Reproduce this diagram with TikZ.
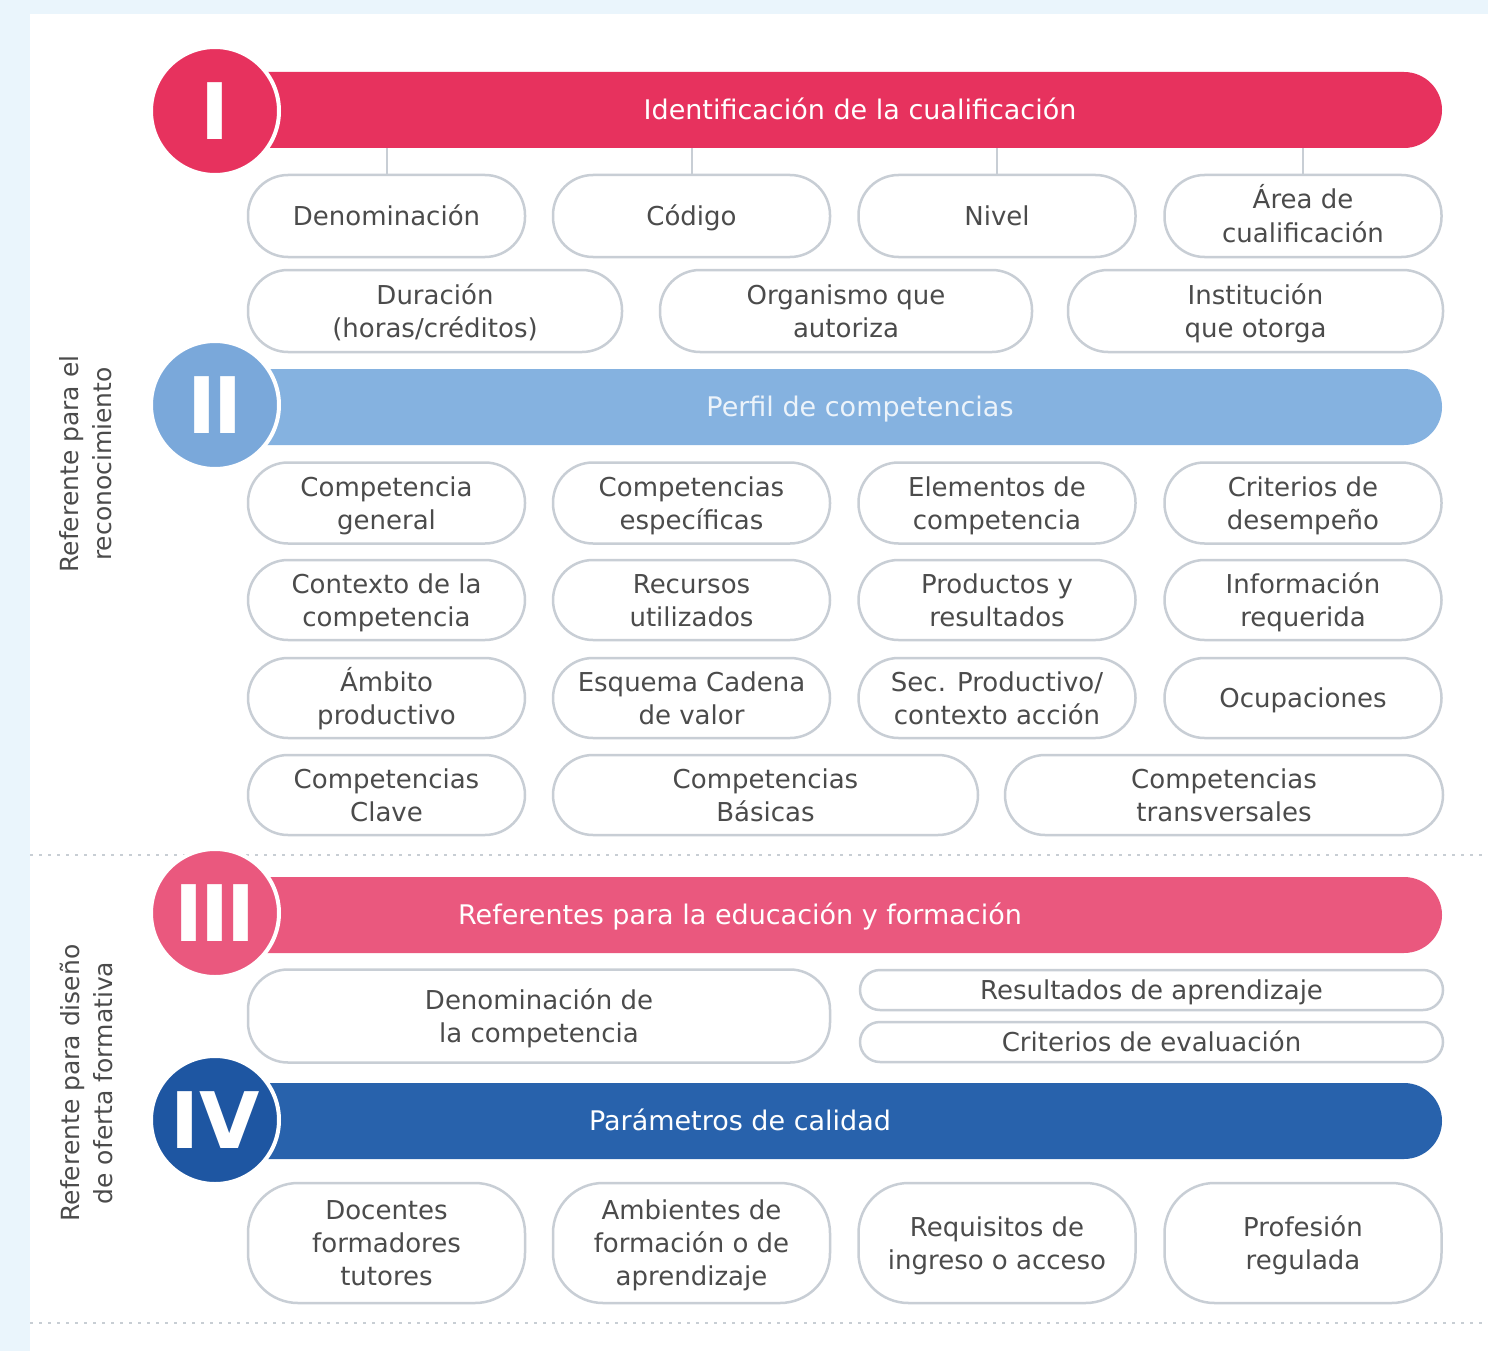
\documentclass[tikz,border=0pt]{standalone}
\usepackage{fontspec}
\setmainfont{DejaVu Sans}
\definecolor{bgblue}{RGB}{234,245,252}
\definecolor{cI}{RGB}{231,50,94}
\definecolor{cII}{RGB}{133,178,224}
\definecolor{cIIc}{RGB}{122,168,218}
\definecolor{cIII}{RGB}{234,88,126}
\definecolor{cIV}{RGB}{40,98,172}
\definecolor{cIVc}{RGB}{30,86,162}
\definecolor{pillc}{RGB}{200,206,213}
\definecolor{txt}{RGB}{75,75,75}
\definecolor{dotc}{RGB}{200,206,212}
\newcommand{\balstrut}{\rule[-7pt]{0pt}{33pt}}
\newcommand{\pl}[1]{\balstrut#1\balstrut}
\tikzset{
  pill/.style={draw=pillc, line width=2.5pt, fill=white, rounded corners=40pt,
    align=center, inner sep=0pt, text=txt,
    font=\fontsize{26}{33}\selectfont},
  barbox/.style={fill=#1, rounded corners=38pt, minimum height=76pt,
    minimum width=1242pt, inner sep=0pt},
  numcirc/.style={circle, fill=#1, draw=white, line width=4pt,
    minimum size=128pt, inner sep=0pt, text=white,
    font=\fontsize{78}{78}\bfseries\selectfont},
  bartext/.style={text=white, font=\fontsize{27}{33}\selectfont, inner sep=0pt},
  sidelabel/.style={rotate=90, align=center, text=txt, inner sep=0pt,
    font=\fontsize{25}{33}\selectfont},
  sepline/.style={dotc, line width=2.5pt, dash pattern=on 3pt off 6pt},
  tick/.style={pillc, line width=2pt}
}
\begin{document}
\begin{tikzpicture}[x=1pt,y=-1pt]
\useasboundingbox (0,0) rectangle (1488,1351);
\fill[bgblue] (0,0) rectangle (1488,1351);
\fill[white] (30,14) rectangle (1488,1351);

% separators
\draw[sepline] (30,855) -- (1488,855);
\draw[sepline] (30,1323) -- (1488,1323);

% side labels
\node[sidelabel] (lab1) at (86,464) {Referente para el\\reconocimiento};
\node[sidelabel] (lab2) at (86,1083) {Referente para diseño\\de oferta formativa};

% ---------- Section I ----------
\node[barbox=cI] (barI) at (821,110) {};
\node[numcirc=cI] (cirI) at (215,111) {I};
\node[bartext] (tI) at (860,110) {\pl{Identificación de la cualificación}};

\node[pill, minimum width=277pt, minimum height=82pt] (p11) at (386.5,216) {\pl{Denominación}};
\node[pill, minimum width=277pt, minimum height=82pt] (p12) at (691.5,216) {\pl{Código}};
\node[pill, minimum width=277pt, minimum height=82pt] (p13) at (997,216) {\pl{Nivel}};
\node[pill, minimum width=277pt, minimum height=82pt] (p14) at (1303,216) {\pl{Área de\\cualificación}};
\foreach \p in {p11,p12,p13,p14}
  \draw[tick] (\p.north) -- (\p.north |- barI.south);

\node[pill, minimum width=374pt, minimum height=82pt] (p21) at (435,311) {\pl{Duración\\(horas/créditos)}};
\node[pill, minimum width=372pt, minimum height=82pt] (p22) at (846,311) {\pl{Organismo que\\autoriza}};
\node[pill, minimum width=375pt, minimum height=82pt] (p23) at (1255.5,311) {\pl{Institución\\que otorga}};

% ---------- Section II ----------
\node[barbox=cII] (barII) at (821,407) {};
\node[numcirc=cIIc] (cirII) at (215,405) {I\kern-3pt I};
\node[bartext, text opacity=0.85] (tII) at (860,407) {\pl{Perfil de competencias}};

\node[pill, minimum width=277pt, minimum height=81pt] (a1) at (386.5,503) {\pl{Competencia\\general}};
\node[pill, minimum width=277pt, minimum height=81pt] (a2) at (691.5,503) {\pl{Competencias\\específicas}};
\node[pill, minimum width=277pt, minimum height=81pt] (a3) at (997,503) {\pl{Elementos de\\competencia}};
\node[pill, minimum width=277pt, minimum height=81pt] (a4) at (1303,503) {\pl{Criterios de\\desempeño}};

\node[pill, minimum width=277pt, minimum height=80pt] (b1) at (386.5,600) {\pl{Contexto de la\\competencia}};
\node[pill, minimum width=277pt, minimum height=80pt] (b2) at (691.5,600) {\pl{Recursos\\utilizados}};
\node[pill, minimum width=277pt, minimum height=80pt] (b3) at (997,600) {\pl{Productos y\\resultados}};
\node[pill, minimum width=277pt, minimum height=80pt] (b4) at (1303,600) {\pl{Información\\requerida}};

\node[pill, minimum width=277pt, minimum height=80pt] (c1) at (386.5,698) {\pl{Ámbito\\productivo}};
\node[pill, minimum width=277pt, minimum height=80pt] (c2) at (691.5,698) {\pl{Esquema Cadena\\de valor}};
\node[pill, minimum width=277pt, minimum height=80pt] (c3) at (997,698) {\pl{Sec. Productivo/\\contexto acción}};
\node[pill, minimum width=277pt, minimum height=80pt] (c4) at (1303,698) {\pl{Ocupaciones}};

\node[pill, minimum width=277pt, minimum height=80pt] (d1) at (386.5,795) {\pl{Competencias\\Clave}};
\node[pill, minimum width=425pt, minimum height=80pt] (d2) at (765.5,795) {\pl{Competencias\\Básicas}};
\node[pill, minimum width=438pt, minimum height=80pt] (d3) at (1224,795) {\pl{Competencias\\transversales}};

% ---------- Section III ----------
\node[barbox=cIII] (barIII) at (821,915) {};
\node[numcirc=cIII] (cirIII) at (215,913) {I\kern-3pt I\kern-3pt I};
\node[bartext] (tIII) at (740,915) {\pl{Referentes para la educación y formación}};

\node[pill, minimum width=582pt, minimum height=93pt] (e1) at (539,1016) {\pl{Denominación de\\la competencia}};
\node[pill, rounded corners=20pt, minimum width=583pt, minimum height=40pt] (e2) at (1151.5,990) {\pl{Resultados de aprendizaje}};
\node[pill, rounded corners=20pt, minimum width=583pt, minimum height=40pt] (e3) at (1151.5,1042) {\pl{Criterios de evaluación}};

% ---------- Section IV ----------
\node[barbox=cIV] (barIV) at (821,1121) {};
\node[numcirc=cIVc] (cirIV) at (215,1120) {IV};
\node[bartext] (tIV) at (740,1121) {\pl{Parámetros de calidad}};

\node[pill, rounded corners=50pt, minimum width=277pt, minimum height=120pt] (f1) at (386.5,1243) {\pl{Docentes\\formadores\\tutores}};
\node[pill, rounded corners=50pt, minimum width=277pt, minimum height=120pt] (f2) at (691.5,1243) {\pl{Ambientes de\\formación o de\\aprendizaje}};
\node[pill, rounded corners=50pt, minimum width=277pt, minimum height=120pt] (f3) at (997,1243) {\pl{Requisitos de\\ingreso o acceso}};
\node[pill, rounded corners=50pt, minimum width=277pt, minimum height=120pt] (f4) at (1303,1243) {\pl{Profesión\\regulada}};
\end{tikzpicture}
\end{document}
